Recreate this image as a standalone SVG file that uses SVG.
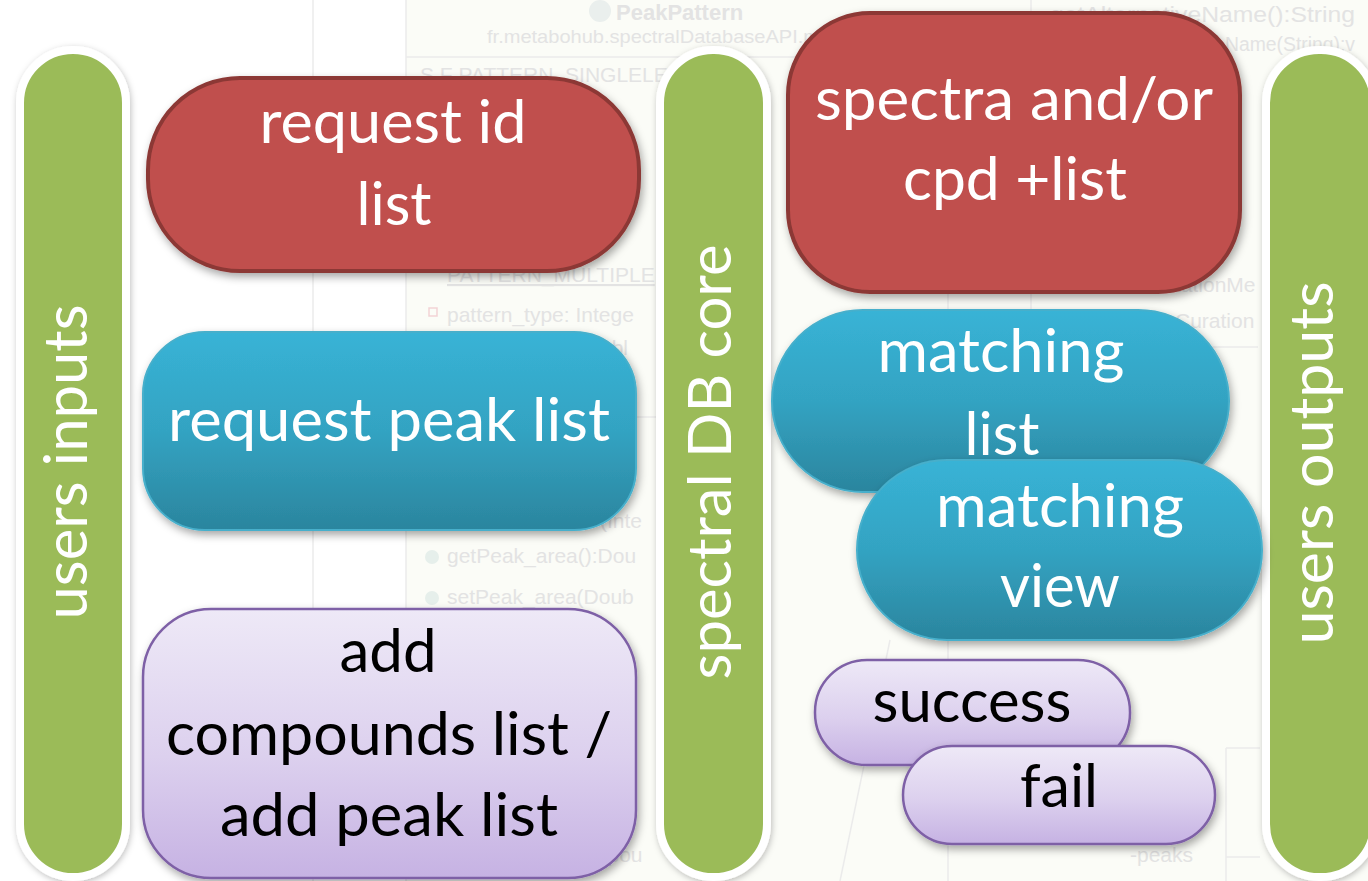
<svg xmlns="http://www.w3.org/2000/svg" width="1368" height="881" viewBox="0 0 1368 881">
  <defs>
    <linearGradient id="gBlue" x1="0" y1="0" x2="0" y2="1">
      <stop offset="0" stop-color="#38B3D6"/>
      <stop offset="0.5" stop-color="#33A3C2"/>
      <stop offset="1" stop-color="#2B859E"/>
    </linearGradient>
    <linearGradient id="gPurple" x1="0" y1="0" x2="0" y2="1">
      <stop offset="0" stop-color="#EEE9F7"/>
      <stop offset="0.55" stop-color="#DCD0EE"/>
      <stop offset="1" stop-color="#C6B2E3"/>
    </linearGradient>
    <filter id="shadow" x="-10%" y="-10%" width="125%" height="130%">
      <feDropShadow dx="2" dy="4" stdDeviation="4" flood-color="#000" flood-opacity="0.35"/>
    </filter>
    <filter id="shadowSoft" x="-20%" y="-5%" width="140%" height="115%">
      <feDropShadow dx="1" dy="2" stdDeviation="3" flood-color="#000" flood-opacity="0.25"/>
    </filter>
  </defs>
  <style>
    .bar { fill: #9BBB59; stroke: #FFFFFF; stroke-width: 8; filter: url(#shadowSoft); }
    .red { fill: #C0504D; stroke: #8C3836; stroke-width: 4; filter: url(#shadow); }
    .blue { fill: url(#gBlue); stroke: #46AFCB; stroke-width: 2; filter: url(#shadow); }
    .purple { fill: url(#gPurple); stroke: #7E60A6; stroke-width: 2.5; filter: url(#shadow); }
    .lbl { font-family: "Lato", "Open Sans", sans-serif; font-size: 60px; text-anchor: middle; }
    .w { fill: #FFFFFF; }
    .k { fill: #000000; }
    .bg { font-family: "Liberation Sans", Arial, sans-serif; fill: #E3E3E3; }
    .bgl { stroke: #EBEBEB; stroke-width: 1.5; fill: none; }
  </style>

  <!-- background (faint UML class diagram) -->
  <g id="background">
    <rect x="0" y="0" width="1368" height="881" fill="#FFFFFF"/>
    <rect x="406" y="0" width="962" height="881" fill="#FBFCF7"/>
    <line class="bgl" x1="313" y1="0" x2="313" y2="881"/>
    <line class="bgl" x1="406" y1="0" x2="406" y2="881"/>
    <line class="bgl" x1="406" y1="57" x2="820" y2="57"/>
    <line class="bgl" x1="406" y1="417" x2="660" y2="417"/>
    <line class="bgl" x1="1031" y1="0" x2="1031" y2="347"/>
    <line class="bgl" x1="948" y1="347" x2="1258" y2="347"/>
    <line class="bgl" x1="948" y1="290" x2="948" y2="881"/>
    <line class="bgl" x1="1226" y1="748" x2="1226" y2="881"/>
    <line class="bgl" x1="1226" y1="748" x2="1260" y2="748"/>
    <line class="bgl" x1="1226" y1="857" x2="1260" y2="857"/>
    <line class="bgl" x1="840" y1="881" x2="890" y2="640"/>
    <circle cx="600" cy="11" r="11" fill="#EAEFED"/>
    <text class="bg" x="616" y="20" font-size="22" font-weight="bold">PeakPattern</text>
    <text class="bg" x="487" y="43" font-size="19" textLength="333" lengthAdjust="spacingAndGlyphs">fr.metabohub.spectralDatabaseAPI.m</text>
    <text class="bg" x="420" y="82" font-size="21">S F PATTERN_SINGLELET</text>
    <text class="bg" x="447" y="282" font-size="21" text-decoration="underline">PATTERN_MULTIPLE</text>
    <rect x="429" y="308" width="8" height="8" fill="none" stroke="#F3D3D6" stroke-width="1.5"/>
    <text class="bg" x="447" y="322" font-size="21">pattern_type: Intege</text>
    <text class="bg" x="600" y="355" font-size="21">ubl</text>
    <text class="bg" x="600" y="488" font-size="21">In</text>
    <text class="bg" x="600" y="528" font-size="21">(Inte</text>
    <circle cx="432" cy="557" r="7" fill="#E6EFEB"/>
    <text class="bg" x="447" y="563" font-size="21">getPeak_area():Dou</text>
    <circle cx="432" cy="598" r="7" fill="#E6EFEB"/>
    <text class="bg" x="447" y="604" font-size="21">setPeak_area(Doub</text>
    <text class="bg" x="590" y="862" font-size="21">mpou</text>
    <text class="bg" x="1050" y="22" font-size="22" textLength="305" lengthAdjust="spacingAndGlyphs">getAlternativeName():String</text>
    <text class="bg" x="1225" y="51" font-size="20" textLength="130" lengthAdjust="spacingAndGlyphs">Name(String):v</text>
    <text class="bg" x="1175" y="292" font-size="21">tationMe</text>
    <text class="bg" x="1175" y="328" font-size="21">Curation</text>
    <text class="bg" x="1130" y="862" font-size="21">-peaks</text>
  </g>

  <!-- vertical swim-lane bars -->
  <g id="users-inputs">
    <rect class="bar" x="20" y="50" width="106" height="827" rx="53"/>
    <text class="lbl w" transform="translate(87,462) rotate(-90)" textLength="315" lengthAdjust="spacingAndGlyphs">users inputs</text>
  </g>
  <g id="spectral-db-core">
    <rect class="bar" x="660" y="50" width="107" height="827" rx="53"/>
    <text class="lbl w" transform="translate(731,462) rotate(-90)" textLength="435" lengthAdjust="spacingAndGlyphs">spectral DB core</text>
  </g>
  <g id="users-outputs">
    <rect class="bar" x="1266" y="50" width="108" height="827" rx="53"/>
    <text class="lbl w" transform="translate(1333,463) rotate(-90)" textLength="363" lengthAdjust="spacingAndGlyphs">users outputs</text>
  </g>

  <!-- input nodes -->
  <g id="request-id-list">
    <rect class="red" x="148" y="78" width="491" height="193" rx="92"/>
    <text class="lbl w" x="393" y="143" textLength="267" lengthAdjust="spacingAndGlyphs">request id</text>
    <text class="lbl w" x="394" y="225" textLength="75" lengthAdjust="spacingAndGlyphs">list</text>
  </g>
  <g id="request-peak-list">
    <rect class="blue" x="143" y="332" width="493" height="198" rx="62"/>
    <text class="lbl w" x="389" y="441" textLength="442" lengthAdjust="spacingAndGlyphs">request peak list</text>
  </g>
  <g id="add-list">
    <rect class="purple" x="143" y="609" width="493" height="269" rx="68"/>
    <text class="lbl k" x="388" y="672" textLength="97" lengthAdjust="spacingAndGlyphs">add</text>
    <text class="lbl k" x="389" y="755" textLength="446" lengthAdjust="spacingAndGlyphs">compounds list /</text>
    <text class="lbl k" x="389" y="836" textLength="338" lengthAdjust="spacingAndGlyphs">add peak list</text>
  </g>

  <!-- output nodes -->
  <g id="spectra-cpd-list">
    <rect class="red" x="788" y="13" width="452" height="279" rx="82"/>
    <text class="lbl w" x="1014" y="120" textLength="398" lengthAdjust="spacingAndGlyphs">spectra and/or</text>
    <text class="lbl w" x="1015" y="200" textLength="224" lengthAdjust="spacingAndGlyphs">cpd +list</text>
  </g>
  <g id="matching-list">
    <rect class="blue" x="772" y="310" width="457" height="182" rx="91"/>
    <text class="lbl w" x="1001" y="372" textLength="247" lengthAdjust="spacingAndGlyphs">matching</text>
    <text class="lbl w" x="1002" y="455" textLength="75" lengthAdjust="spacingAndGlyphs">list</text>
  </g>
  <g id="matching-view">
    <rect class="blue" x="857" y="460" width="405" height="180" rx="90"/>
    <text class="lbl w" x="1060" y="527" textLength="248" lengthAdjust="spacingAndGlyphs">matching</text>
    <text class="lbl w" x="1060" y="607" textLength="120" lengthAdjust="spacingAndGlyphs">view</text>
  </g>
  <g id="success">
    <rect class="purple" x="815" y="660" width="315" height="105" rx="52"/>
    <text class="lbl k" x="972" y="722" textLength="199" lengthAdjust="spacingAndGlyphs">success</text>
  </g>
  <g id="fail">
    <rect class="purple" x="903" y="746" width="312" height="98" rx="49"/>
    <text class="lbl k" x="1059" y="807" textLength="78" lengthAdjust="spacingAndGlyphs">fail</text>
  </g>

  <g id="connectors"></g>
</svg>
